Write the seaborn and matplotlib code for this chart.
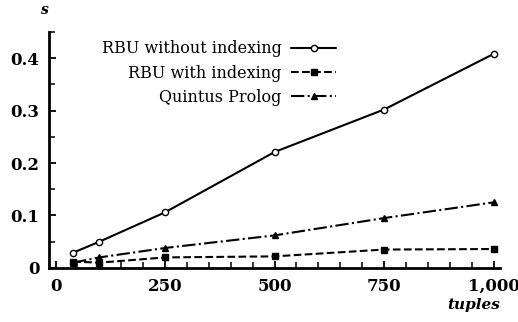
import matplotlib
matplotlib.use("Agg")
import matplotlib.pyplot as plt
import seaborn as sns
import pandas as pd
from matplotlib.ticker import MultipleLocator, FixedLocator, FixedFormatter

sns.set_theme(style="ticks")
plt.rcParams['font.family'] = ['DejaVu Serif']
plt.rcParams['text.color'] = 'black'

tuples = [40, 100, 250, 500, 750, 1000]
rbu_without = [0.029, 0.05, 0.106, 0.221, 0.302, 0.408]
rbu_with = [0.012, 0.01, 0.02, 0.022, 0.035, 0.036]
quintus = [0.01, 0.02, 0.038, 0.062, 0.095, 0.125]
series_names = ["RBU without indexing", "RBU with indexing", "Quintus Prolog"]
xtick_vals = [0, 250, 500, 750, 1000]
xtick_labels = ["0", "250", "500", "750", "1,000"]
ytick_vals = [0, 0.1, 0.2, 0.3, 0.4]
ytick_labels = ["0", "0.1", "0.2", "0.3", "0.4"]

df = pd.DataFrame({
    "tuples": tuples * 3,
    "s": rbu_without + rbu_with + quintus,
    "series": sum([[n] * len(tuples) for n in series_names], []),
})

fig = plt.figure(figsize=(5.18, 3.22), dpi=100)
ax = fig.add_axes([0.0946, 0.168, 0.871, 0.733])

styles = [
    dict(linestyle="-", marker="o", markerfacecolor="white", markersize=4.5),
    dict(linestyle="--", dashes=(4, 3), marker="s", markerfacecolor="black", markersize=4.5),
    dict(linestyle="-.", dashes=(5, 2, 1.2, 2), marker="^", markerfacecolor="black", markersize=4.5),
]
for name, st in zip(series_names, styles):
    sub = df[df["series"] == name]
    sns.lineplot(data=sub, x="tuples", y="s", ax=ax, color="black", linewidth=1.5,
                 markeredgecolor="black", markeredgewidth=1.0, label=name, **st)

ax.set_xlim(-15, 1015)
ax.set_ylim(0, 0.45)
ax.xaxis.set_major_locator(FixedLocator(xtick_vals))
ax.xaxis.set_major_formatter(FixedFormatter(xtick_labels))
ax.yaxis.set_major_locator(FixedLocator(ytick_vals))
ax.yaxis.set_major_formatter(FixedFormatter(ytick_labels))
ax.xaxis.set_minor_locator(MultipleLocator(50))
ax.yaxis.set_minor_locator(MultipleLocator(0.05))
ax.tick_params(axis="both", which="major", direction="in", length=5, width=1.3,
               labelsize=12, pad=7, colors="black")
ax.tick_params(axis="both", which="minor", direction="in", length=4, width=1.1, colors="black")
for lab in ax.get_xticklabels() + ax.get_yticklabels():
    lab.set_fontweight("bold")
sns.despine(ax=ax)
for sp in ["left", "bottom"]:
    ax.spines[sp].set_linewidth(2.0)
    ax.spines[sp].set_color("black")
ax.set_xlabel("")
ax.set_ylabel("")

fig.text(45 / 518, 1 - 10 / 322, "s", fontsize=10, fontstyle="italic", fontweight="bold",
         ha="center", va="center", color="black")
fig.text(500 / 518, 1 - 305 / 322, "tuples", fontsize=11, fontstyle="italic", fontweight="bold",
         ha="right", va="center", color="black")

leg = ax.legend(loc="upper right", bbox_to_anchor=(0.668, 1.025), frameon=False,
                markerfirst=False, handlelength=2.8, fontsize=11.5, labelspacing=0.45,
                handletextpad=0.6)
for t in leg.get_texts():
    t.set_color("black")

fig.savefig("out.png", dpi=100)
